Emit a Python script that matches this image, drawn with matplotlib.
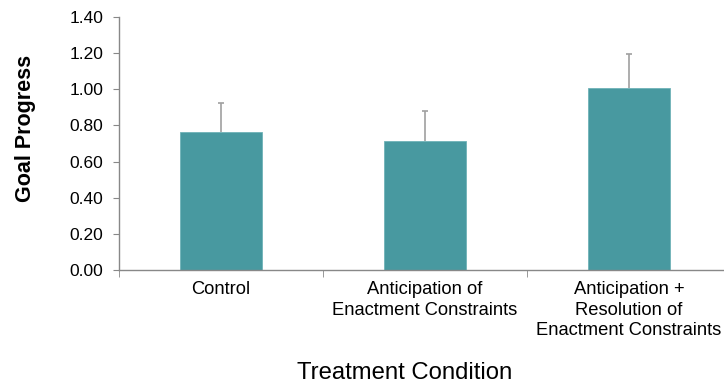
import numpy as np
import matplotlib
matplotlib.use("Agg")
from matplotlib import pyplot as plt

CATEGORIES = [
    "Control",
    "Anticipation of\nEnactment Constraints",
    "Anticipation +\nResolution of\nEnactment Constraints",
]
MEANS = [0.764, 0.714, 1.007]
ERRORS = [0.158, 0.166, 0.186]
YTICKS = [0.0, 0.2, 0.4, 0.6, 0.8, 1.0, 1.2, 1.4]

plt.rcParams['font.family'] = ['Liberation Sans', 'DejaVu Sans']

fig = plt.figure(figsize=(7.24, 3.85), dpi=100)
ax = fig.add_axes([119 / 724, 1 - 270 / 385, 612 / 724, 253 / 385])

x = np.arange(len(CATEGORIES))
tops = np.array(MEANS) + np.array(ERRORS)
# upper error bars only: stem plus a cap at the top
ax.errorbar(x, MEANS, yerr=[[0] * len(ERRORS), ERRORS], fmt="none",
            ecolor="#a0a0a0", elinewidth=1.2, capsize=0, zorder=1)
ax.plot(x, tops, linestyle="none", marker="_", markersize=5,
        markeredgewidth=1.2, color="#a0a0a0", zorder=1)
ax.bar(x, MEANS, width=0.4, color="#4899a0", edgecolor="#6fb3b8", linewidth=0.6, zorder=2)

ax.set_xlim(-0.5, 2.5)
ax.set_ylim(0, 1.4)
ax.set_yticks(YTICKS)
ax.set_yticklabels([f"{v:.2f}" for v in YTICKS], fontsize=12.5)

ax.set_xticks(x)
ax.set_xticklabels(CATEGORIES, fontsize=13.2, linespacing=1.28)
ax.tick_params(axis="x", length=0, pad=8)
ax.set_xticks([-0.5, 0.5, 1.5, 2.5], minor=True)
ax.tick_params(axis="x", which="minor", length=5, color="#888888", direction="out")
ax.tick_params(axis="y", length=4.5, color="#888888", direction="out", pad=7)

for side in ["top", "right"]:
    ax.spines[side].set_visible(False)
for side in ["left", "bottom"]:
    ax.spines[side].set_color("#888888")
    ax.spines[side].set_linewidth(1.0)
    ax.spines[side].set_zorder(3)

ax.set_ylabel("Goal Progress", fontsize=15.5, fontweight="bold")
ax.yaxis.set_label_coords(-0.136, 0.56)
fig.text(405 / 724, 1 - 379 / 385, "Treatment Condition", fontsize=17.2,
         ha="center", va="baseline")

fig.savefig("out.png", dpi=100)
